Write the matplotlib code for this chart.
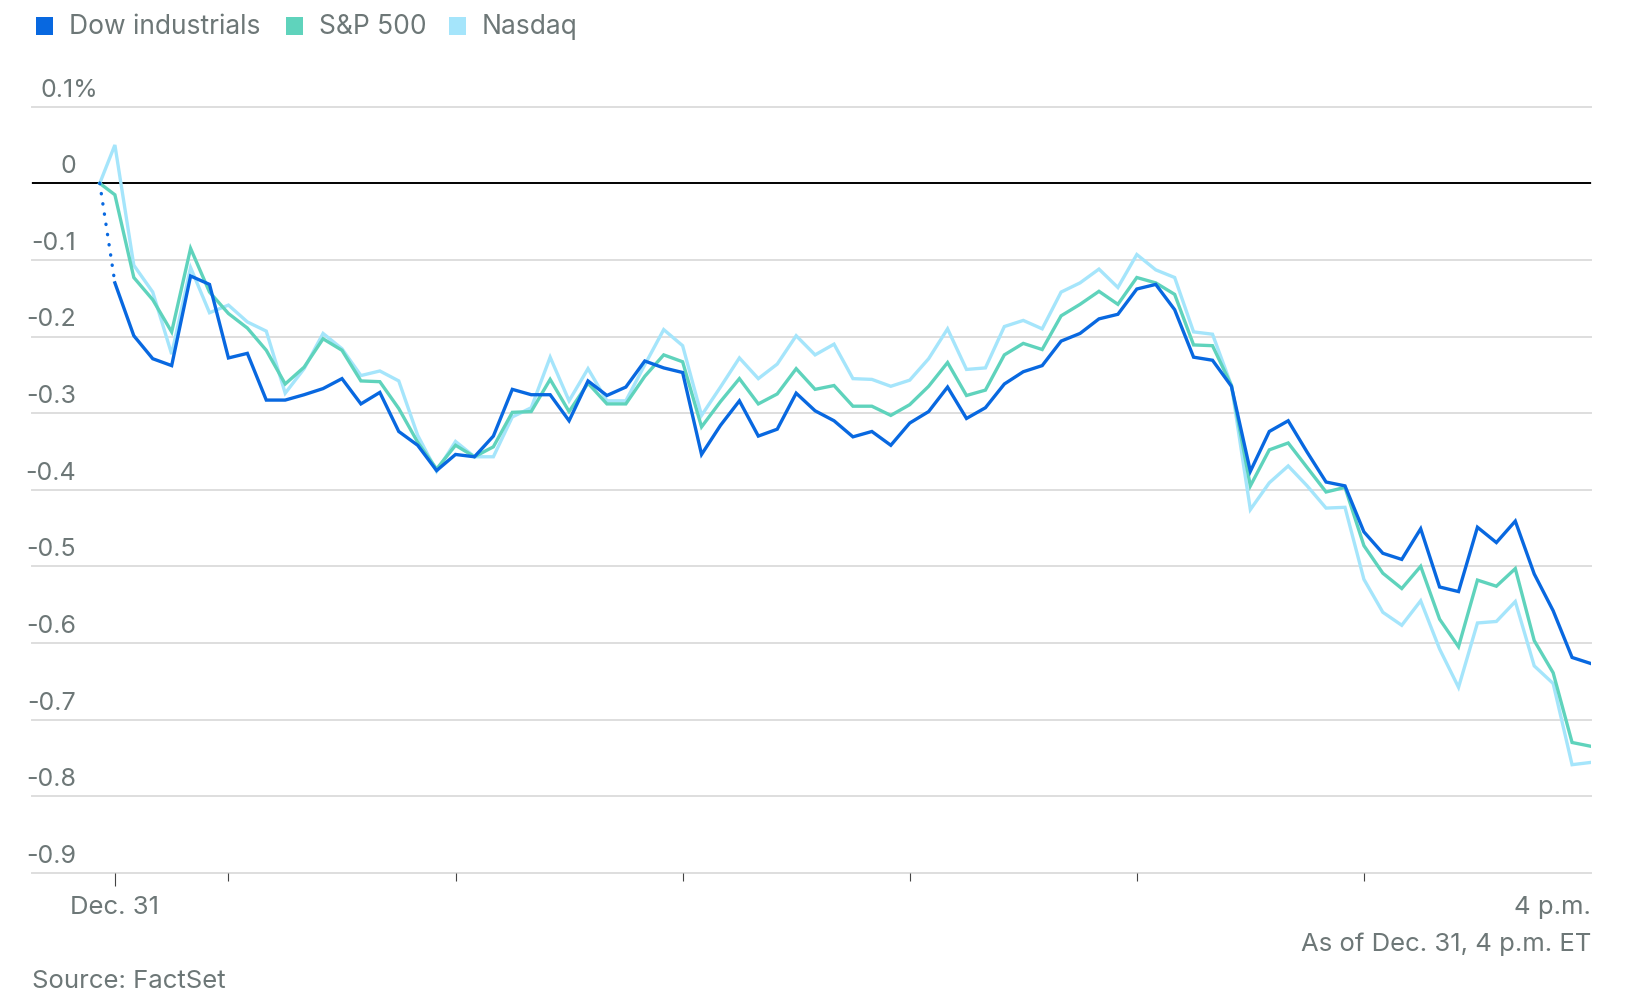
import matplotlib
matplotlib.use("Agg")
import matplotlib.pyplot as plt
import matplotlib.transforms as mtransforms
from matplotlib.patches import Rectangle

plt.rcParams['font.family'] = ['Inter', 'DejaVu Sans']

W, H, DPI = 1637, 999, 100

# minutes after 9:30 a.m.; first point is the previous close
minutes = [-4] + list(range(0, 391, 5))

dow = [0,
       -0.130, -0.199, -0.229, -0.238, -0.121, -0.132, -0.228, -0.222, -0.283, -0.283,
       -0.276, -0.268, -0.255, -0.288, -0.273, -0.324, -0.342, -0.375, -0.354, -0.357,
       -0.330, -0.269, -0.276, -0.276, -0.310, -0.258, -0.277, -0.266, -0.232, -0.241,
       -0.247, -0.354, -0.316, -0.284, -0.330, -0.321, -0.274, -0.297, -0.310, -0.331,
       -0.324, -0.342, -0.313, -0.298, -0.266, -0.307, -0.293, -0.262, -0.246, -0.238,
       -0.206, -0.196, -0.177, -0.171, -0.138, -0.132, -0.165, -0.227, -0.231, -0.265,
       -0.376, -0.324, -0.310, -0.351, -0.390, -0.395, -0.455, -0.483, -0.491, -0.451,
       -0.527, -0.533, -0.449, -0.469, -0.441, -0.510, -0.558, -0.619, -0.627]

sp500 = [0,
         -0.015, -0.123, -0.152, -0.194, -0.085, -0.142, -0.170, -0.189, -0.218, -0.262,
         -0.240, -0.203, -0.218, -0.258, -0.259, -0.294, -0.338, -0.373, -0.342, -0.357,
         -0.344, -0.299, -0.298, -0.256, -0.298, -0.261, -0.288, -0.288, -0.252, -0.224,
         -0.233, -0.318, -0.285, -0.255, -0.288, -0.275, -0.242, -0.269, -0.264, -0.291,
         -0.291, -0.303, -0.289, -0.265, -0.234, -0.277, -0.270, -0.224, -0.209, -0.217,
         -0.173, -0.158, -0.141, -0.158, -0.123, -0.130, -0.145, -0.211, -0.212, -0.264,
         -0.395, -0.348, -0.339, -0.371, -0.403, -0.397, -0.473, -0.509, -0.529, -0.500,
         -0.569, -0.605, -0.518, -0.526, -0.503, -0.597, -0.639, -0.730, -0.735]

nasdaq = [0,
          0.050, -0.107, -0.142, -0.223, -0.110, -0.169, -0.159, -0.181, -0.193, -0.274,
          -0.242, -0.196, -0.216, -0.251, -0.245, -0.258, -0.329, -0.376, -0.337, -0.357,
          -0.357, -0.305, -0.293, -0.227, -0.284, -0.242, -0.284, -0.284, -0.237, -0.191,
          -0.212, -0.303, -0.266, -0.228, -0.255, -0.236, -0.199, -0.224, -0.210, -0.255,
          -0.256, -0.265, -0.257, -0.229, -0.190, -0.243, -0.241, -0.187, -0.179, -0.190,
          -0.142, -0.130, -0.112, -0.136, -0.093, -0.113, -0.123, -0.194, -0.197, -0.264,
          -0.426, -0.391, -0.369, -0.395, -0.424, -0.423, -0.517, -0.560, -0.577, -0.545,
          -0.608, -0.658, -0.574, -0.572, -0.546, -0.630, -0.653, -0.759, -0.756]

y_ticks = [0.1, 0, -0.1, -0.2, -0.3, -0.4, -0.5, -0.6, -0.7, -0.8, -0.9]
y_labels = ['0.1%', '0', '-0.1', '-0.2', '-0.3', '-0.4', '-0.5', '-0.6', '-0.7', '-0.8', '-0.9']
hour_ticks = [30, 90, 150, 210, 270, 330]

series = ['Dow industrials', 'S&P 500', 'Nasdaq']
colors = {'Dow industrials': '#0868e0', 'S&P 500': '#5fd3bc', 'Nasdaq': '#a5e5fb'}
text_gray = '#6d7777'

fig = plt.figure(figsize=(W / DPI, H / DPI), dpi=DPI)
ax = fig.add_axes([32 / W, 1 - 872.7 / H, (1591 - 32) / W, (872.7 - 106.7) / H])
ax.set_xlim(-21.9, 390)
ax.set_ylim(-0.9, 0.1)

# grid
for v in y_ticks:
    ax.axhline(v, color='#dedede', lw=1.4, zorder=0, clip_on=False)
ax.axhline(0, color='black', lw=1.4, zorder=1)

lw = 2.4
ax.plot(minutes, nasdaq, color=colors['Nasdaq'], lw=lw, zorder=2, solid_joinstyle='miter')
ax.plot(minutes, sp500, color=colors['S&P 500'], lw=lw, zorder=3, solid_joinstyle='miter')
ax.plot(minutes[:2], dow[:2], color=colors['Dow industrials'], lw=lw, ls=(0, (0.1, 3.0)),
        dash_capstyle='round', zorder=4)
ax.plot(minutes[1:], dow[1:], color=colors['Dow industrials'], lw=lw, zorder=4,
        solid_joinstyle='miter')

for s in ax.spines.values():
    s.set_visible(False)
ax.set_yticks([])
ax.set_xticks([0])
ax.set_xticklabels([])
ax.set_xticks(hour_ticks, minor=True)
ax.tick_params(axis='x', which='major', length=9.4, width=0.8, color='#444444')
ax.tick_params(axis='x', which='minor', length=5.8, width=0.8, color='#444444')

# y labels sit above the grid lines
trans = mtransforms.offset_copy(ax.get_yaxis_transform(), fig=fig, x=0, y=7.2, units='points')
for v, lab in zip(y_ticks, y_labels):
    if lab.endswith('%'):
        ax.text(8 / 1559, v, lab, transform=trans, ha='left', va='baseline',
                fontsize=18, color=text_gray)
    else:
        ax.text(44 / 1559, v, lab, transform=trans, ha='right', va='baseline',
                fontsize=18, color=text_gray)

def ftext(x, y, s, **kw):
    fig.text(x / W, 1 - y / H, s, color=text_gray, va='baseline', **kw)

ftext(115, 914, 'Dec. 31', ha='center', fontsize=18.5)
ftext(1591, 914, '4 p.m.', ha='right', fontsize=18.5)
ftext(1591, 951, 'As of Dec. 31, 4 p.m. ET', ha='right', fontsize=18.5)
ftext(32, 988, 'Source: FactSet', ha='left', fontsize=18.5)

# legend
legend_x = [(36, 69), (286, 319), (449, 482)]
for name, (sx, tx) in zip(series, legend_x):
    fig.add_artist(Rectangle((sx / W, 1 - 35 / H), 17 / W, 18 / H,
                             transform=fig.transFigure, color=colors[name], lw=0))
    ftext(tx, 34, name, ha='left', fontsize=19)

fig.savefig('out.png', dpi=DPI)
